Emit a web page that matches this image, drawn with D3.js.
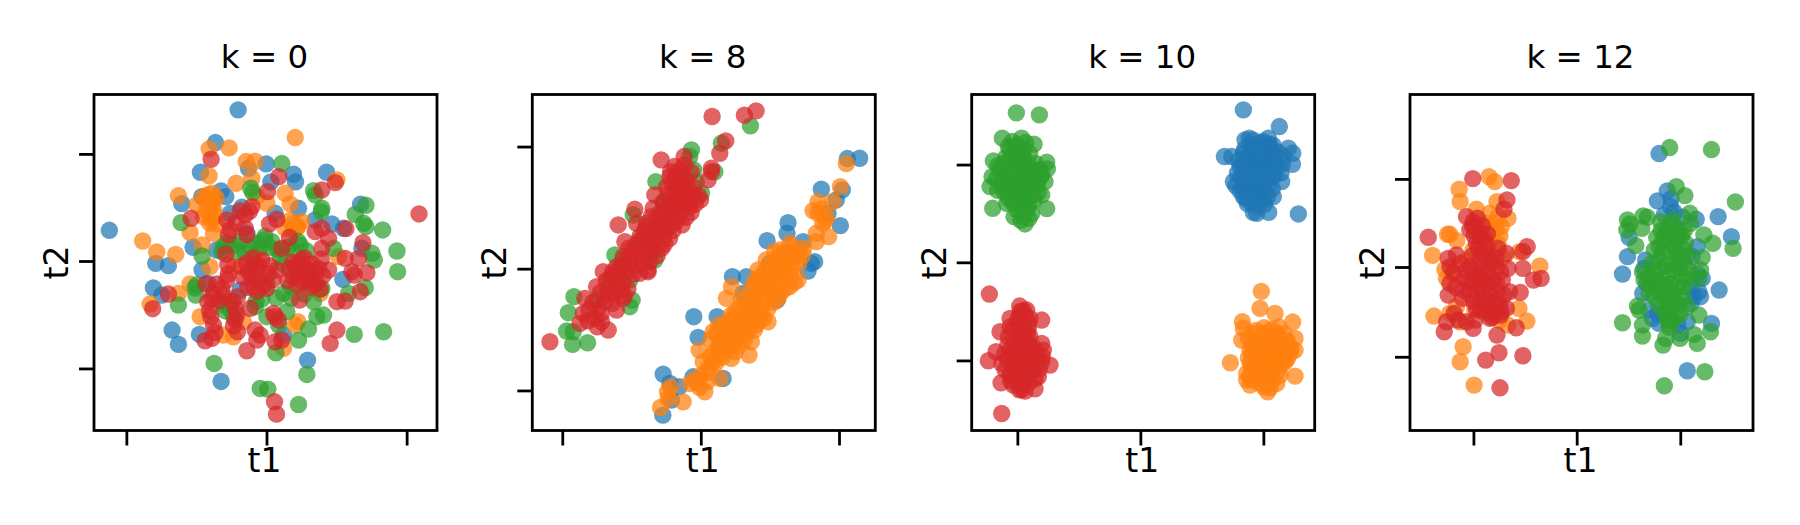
<!DOCTYPE html>
<html>
<head>
<meta charset="utf-8">
<script src="https://cdn.jsdelivr.net/npm/d3@7/dist/d3.min.js"></script>
<style>html,body{margin:0;padding:0;background:#fff}svg{display:block}</style>
</head>
<body>
<svg id="chart" width="1800" height="525"></svg>
<script>
const classes = ["blue", "orange", "green", "red"];
const classColors = ["#1f77b4", "#ff7f0e", "#2ca02c", "#d62728"];
const titles = ["k = 0", "k = 8", "k = 10", "k = 12"];

const k0Blue = [[-8.5,45.3],[-47.1,9.2],[-15.3,35.5],[-19.8,26.6],[-0.1,29.1],[8.1,26.0],[8.7,23.7],[1.3,23.7],[18.0,26.6],[-13.6,21.0],[-12.2,19.3],[-19.4,19.3],[-25.4,17.2],[9.6,15.8],[-7.4,16.1],[-10.9,14.3],[2.6,14.3],[14.6,12.3],[19.6,11.1],[28.2,17.0],[23.1,9.8],[-22.0,4.1],[-33.2,-0.7],[-29.4,-1.4],[-19.3,-2.7],[-33.9,-8.1],[-31.4,-10.2],[22.9,-5.5],[28.6,3.8],[-28.3,-20.7],[-26.4,-25.0],[-20.1,-22.0],[5.1,-22.2],[12.3,-29.7],[-13.6,-36.1],[-5.4,27.8],[-5.9,8.3],[-14.9,3.3],[-7.9,-8.7],[-17.4,-6.7]];
const k0Orange = [[8.6,37.0],[-11.2,33.9],[-17.2,33.6],[-6.1,29.8],[-3.4,29.9],[-17.2,25.5],[-4.4,24.8],[-9.1,23.3],[-26.4,19.6],[-16.3,20.3],[-18.9,19.3],[-20.9,16.8],[-17.4,17.8],[-15.9,15.8],[-16.4,12.3],[-18.9,13.3],[5.6,20.3],[7.1,17.1],[0.1,17.3],[-2.9,19.3],[8.1,11.3],[10.6,11.8],[5.6,9.8],[-22.9,8.5],[-37.1,6.0],[-32.9,2.7],[-27.2,2.0],[-19.3,4.8],[21.1,24.3],[-2.4,2.3],[-16.9,-1.7],[-22.9,-6.9],[-26.4,-9.7],[-34.9,-12.9],[-19.9,-16.7],[-12.9,-22.2],[-9.9,-22.7],[-6.9,-18.2],[9.4,-18.2],[8.6,-19.2],[5.1,-26.2],[16.1,-9.7],[21.6,1.3],[-9.9,-1.7],[-15.9,8.3],[-18.1,15.1],[-16.9,14.1],[-15.4,13.6],[-17.1,11.4],[-15.1,18.9],[-16.1,17.9],[-14.9,11.1],[7.9,9.1],[9.4,10.4],[6.9,12.1],[9.1,9.9],[-17.6,19.9],[-16.6,16.6]];
const k0Green = [[4.6,29.2],[14.1,21.1],[14.6,19.8],[-4.7,21.8],[-4.1,20.5],[16.6,15.8],[16.4,14.8],[29.8,16.7],[26.6,14.0],[29.1,11.3],[29.8,10.3],[34.8,9.3],[-25.6,11.5],[39.1,3.0],[39.3,-3.2],[31.6,2.3],[32.3,0.3],[20.1,3.8],[-19.3,1.5],[-13.4,2.8],[-9.9,4.8],[-6.4,2.3],[-0.9,6.3],[1.6,5.8],[-2.9,5.3],[10.1,4.8],[8.1,3.3],[4.1,1.3],[-3.9,-0.7],[-20.9,-7.2],[-21.2,-10.2],[-26.4,-13.2],[-12.9,-13.2],[-10.9,-12.2],[5.1,-9.7],[7.1,-7.7],[14.1,-12.2],[16.6,-8.2],[29.6,-8.0],[24.6,-9.7],[15.1,-16.7],[17.1,-16.2],[6.1,-15.2],[0.1,-16.7],[3.6,-19.2],[12.6,-20.4],[9.6,-23.7],[26.3,-22.0],[35.1,-21.2],[2.8,-27.5],[-15.7,-30.7],[12.1,-34.0],[-1.9,-38.2],[0.4,-38.4],[9.6,-43.0],[-9.9,-16.7],[-3.4,-13.7],[13.1,-4.7],[0.1,-6.7],[-11.9,5.4],[-7.9,5.9],[-4.9,4.4],[-1.9,3.9],[1.1,4.1],[3.4,3.4],[6.4,4.1],[9.4,5.9],[11.9,3.1],[-12.9,4.4],[-8.9,2.9],[-0.4,7.4],[-12.4,-14.9],[-10.9,-14.4],[-21.4,-8.1],[7.4,-11.1],[11.4,-9.9],[2.9,-11.1],[-3.1,-12.1],[5.1,-1.1],[-1.4,-11.4]];
const k0Red = [[45.7,14.1],[-16.6,30.5],[3.7,25.3],[20.6,23.5],[16.6,21.3],[0.3,20.8],[-4.4,16.3],[-6.4,13.8],[-11.9,12.3],[-22.6,12.8],[0.9,11.1],[3.1,12.5],[-10.9,9.3],[-11.4,7.8],[-5.9,7.8],[6.9,7.1],[4.6,3.8],[14.6,8.8],[16.6,9.8],[18.6,6.8],[16.6,3.8],[23.8,9.7],[28.9,5.5],[27.6,0.8],[23.6,0.8],[25.6,-3.2],[30.1,-3.5],[26.3,-4.2],[-12.2,2.1],[-11.6,-1.2],[-11.9,-5.7],[-1.4,0.3],[-5.4,-3.2],[-2.9,-2.7],[0.6,-3.7],[3.1,-2.7],[-3.9,-7.7],[0.1,-8.2],[10.6,0.3],[8.6,-1.7],[12.6,-2.7],[15.6,-2.2],[18.6,-2.7],[8.1,-4.7],[11.6,-5.2],[15.1,-6.7],[-18.1,-6.9],[-15.9,-9.7],[-13.4,-8.2],[-29.4,-9.9],[-17.6,-12.2],[-34.1,-14.3],[-8.7,-10.7],[-9.4,-14.2],[-4.9,-14.2],[-16.7,-16.7],[-15.9,-19.2],[-9.4,-17.7],[-8.7,-21.2],[-18.4,-23.9],[-16.4,-23.2],[-3.4,-20.7],[-1.9,-22.2],[-2.9,-23.7],[2.1,-15.7],[2.6,-16.7],[3.6,-17.7],[9.9,-11.7],[21.1,-12.2],[23.6,-12.0],[28.1,-9.2],[21.1,-20.7],[19.1,-24.7],[2.6,-24.2],[4.6,-23.7],[-5.9,-26.9],[2.4,-42.2],[3.0,-45.9],[-7.4,-1.6],[-5.9,-0.6],[-4.1,0.9],[-2.4,-1.4],[-6.9,-4.9],[-4.4,-5.1],[-1.9,-5.4],[0.9,-1.4],[1.9,-5.6],[-2.9,-9.1],[-0.9,-7.4],[-5.6,-7.9],[6.9,-2.4],[9.4,-0.6],[11.4,0.9],[13.6,-0.9],[16.4,0.6],[6.4,-5.9],[9.6,-3.9],[10.9,-6.4],[13.1,-5.1],[14.6,-3.6],[16.9,-4.4],[9.1,-7.1],[12.9,-7.9],[16.1,-8.4],[11.4,-3.1],[14.1,-6.9],[7.9,-0.4],[-16.4,-11.4],[-14.1,-11.9],[-17.1,-14.9],[-14.9,-6.9],[-12.9,-10.4],[-10.1,-12.1],[-8.9,-16.1],[-9.9,-19.4],[-15.4,-21.4],[-11.4,-3.9],[-6.4,9.9],[-9.1,11.4],[-5.1,14.9],[-7.9,15.1]];

const k8Blue = [[44.0,33.0],[47.7,33.1],[36.2,23.8],[42.5,23.6],[40.7,20.6],[41.9,12.9],[38.2,16.6],[26.2,13.8],[25.9,10.6],[19.9,8.4],[30.7,8.1],[34.2,2.1],[33.2,1.6],[32.2,-0.7],[9.5,-2.4],[13.7,-2.4],[-2.1,-14.4],[4.9,-14.4],[-0.8,-20.6],[22.9,-9.4],[-11.3,-31.6],[-9.3,-34.4],[-6.5,-35.4],[-2.3,-32.4],[6.7,-32.9],[-8.8,-39.4],[-11.4,-43.9],[15.7,-9.4],[10.7,-17.4],[23.7,0.6],[5.7,-23.4],[26.7,4.6],[18.7,-2.4],[12.7,-7.4],[20.7,1.6]];
const k8Orange = [[43.7,31.5],[41.9,24.6],[39.7,20.1],[35.2,20.1],[33.7,17.4],[37.7,15.6],[35.2,16.6],[34.7,10.6],[38.4,9.6],[34.7,8.1],[26.7,7.6],[29.2,3.6],[23.7,5.6],[25.7,2.6],[19.7,2.6],[17.2,-0.4],[21.7,-0.4],[25.7,-0.4],[29.2,-3.4],[26.7,-5.4],[18.7,-3.4],[23.2,-3.9],[20.2,-6.4],[16.7,-5.4],[9.2,-5.4],[7.7,-8.9],[12.2,-8.9],[23.2,-8.9],[15.2,-11.4],[18.2,-13.4],[20.2,-15.9],[13.7,-14.4],[16.7,-16.9],[10.7,-15.9],[8.7,-15.4],[6.7,-17.9],[3.7,-18.9],[9.7,-19.4],[13.7,-19.4],[15.2,-21.9],[6.2,-21.4],[9.7,-22.9],[-0.5,-24.4],[14.5,-25.9],[9.2,-26.9],[5.2,-25.4],[0.7,-27.9],[3.7,-27.9],[2.2,-29.9],[5.7,-32.9],[-3.3,-34.4],[-0.8,-34.4],[1.2,-36.9],[-10.0,-36.9],[-9.8,-38.9],[-5.3,-39.9],[-12.1,-41.6],[27.4,6.4],[29.1,5.4],[30.6,4.1],[25.1,4.9],[27.1,3.4],[29.4,1.6],[22.9,3.1],[24.9,1.1],[27.4,0.6],[21.1,1.4],[23.4,-0.9],[27.1,-2.1],[19.1,-0.9],[21.4,-2.4],[24.9,-2.9],[28.1,-4.1],[17.6,-2.6],[19.6,-4.4],[22.4,-5.1],[25.4,-5.9],[16.1,-3.9],[18.1,-6.1],[21.4,-7.4],[24.1,-7.1],[14.9,-6.4],[16.9,-8.1],[19.4,-8.9],[21.9,-10.1],[13.4,-9.4],[15.9,-10.4],[18.1,-11.1],[20.1,-12.1],[11.6,-11.6],[13.9,-12.4],[16.4,-13.1],[18.9,-14.9],[10.4,-12.9],[12.4,-14.1],[14.9,-15.1],[17.4,-15.6],[9.1,-13.9],[11.4,-16.4],[13.4,-17.1],[16.1,-18.4],[7.6,-16.6],[9.4,-18.1],[11.9,-18.9],[14.4,-18.1],[5.4,-16.9],[8.1,-19.9],[10.9,-20.6],[13.1,-21.4],[4.6,-19.6],[6.6,-20.1],[8.9,-22.1],[11.4,-23.1],[3.1,-21.1],[5.4,-23.1],[7.9,-24.4],[10.4,-24.9],[4.1,-24.9],[6.4,-26.6],[2.9,-26.4],[4.4,-28.4],[2.1,-31.1],[0.1,-31.9],[-1.9,-33.4],[-0.4,-35.6],[1.9,-33.9],[-9.1,-35.4],[30.9,6.1],[22.1,5.1],[36.6,13.6],[36.1,17.9],[37.4,14.4]];
const k8Green = [[14.9,42.8],[6.2,37.6],[-2.8,35.6],[-3.3,33.6],[-2.1,29.6],[4.2,29.0],[-1.3,26.1],[0.2,22.6],[-13.5,26.1],[-9.3,12.6],[-20.3,16.1],[-13.8,2.6],[-25.8,4.1],[-21.3,-3.4],[-38.1,-8.4],[-39.8,-13.2],[-20.6,-9.4],[-21.3,-11.4],[-31.3,-9.4],[-40.3,-18.7],[-38.3,-18.9],[-38.5,-22.7],[-34.0,-22.2],[-5.3,24.6],[-9.3,20.6],[-12.3,16.6],[-16.3,12.6],[-18.3,8.6],[-23.3,2.6],[-27.3,-3.4],[-11.3,20.1],[-14.8,7.1]];
const k8Red = [[16.6,47.3],[13.1,46.0],[3.4,45.6],[7.5,38.3],[5.7,34.6],[-5.0,33.6],[-11.9,32.6],[3.2,30.1],[3.2,29.1],[2.2,26.6],[-6.3,29.6],[-9.3,27.6],[-4.3,26.6],[-7.3,24.6],[-10.3,24.6],[-13.8,22.1],[-2.3,21.6],[-5.3,21.6],[-8.3,20.6],[-3.3,18.6],[-6.3,17.6],[-11.3,19.6],[-14.3,18.1],[-19.8,17.8],[-9.3,16.6],[-13.3,14.6],[-16.3,13.6],[-19.3,13.6],[-24.8,13.1],[-22.8,8.1],[-18.3,9.6],[-13.8,8.6],[-11.8,6.1],[-16.3,6.1],[-20.3,5.6],[-23.3,3.6],[-15.3,2.1],[-15.8,-0.9],[-21.3,1.6],[-25.3,0.6],[-29.3,-0.9],[-24.3,-2.4],[-25.3,-4.9],[-31.3,-5.4],[-34.8,-8.9],[-27.8,-7.9],[-23.3,-8.9],[-30.8,-11.9],[-25.3,-12.4],[-35.3,-13.4],[-31.8,-14.9],[-29.8,-15.9],[-36.3,-16.4],[-27.8,-18.4],[-45.3,-21.9],[-9.1,29.1],[-7.6,27.4],[-5.6,28.6],[-3.8,24.2],[-8.6,25.6],[-6.1,25.9],[-4.6,23.1],[-2.1,24.4],[-0.6,21.9],[-9.9,22.4],[-7.9,22.9],[-6.6,22.1],[-3.9,20.2],[-1.6,19.4],[-0.1,20.6],[-9.6,19.1],[-7.1,19.6],[-5.4,18.9],[-2.9,16.9],[-11.4,16.9],[-8.4,18.1],[-6.4,15.6],[-4.4,15.4],[-11.9,14.1],[-9.9,14.9],[-7.6,13.9],[-5.6,13.1],[-14.9,15.6],[-12.6,12.4],[-10.4,12.1],[-8.4,11.4],[-16.9,11.4],[-15.1,10.6],[-13.4,10.9],[-11.1,9.6],[-9.4,9.1],[-19.1,7.4],[-17.4,8.4],[-15.4,8.1],[-12.9,6.9],[-10.9,7.4],[-21.6,6.1],[-19.4,3.4],[-17.6,4.9],[-15.1,4.4],[-13.1,3.9],[-23.4,1.1],[-21.4,3.6],[-19.1,0.9],[-17.4,1.9],[-15.9,-0.4],[-26.6,-2.1],[-24.1,0.4],[-22.4,-0.9],[-20.4,-1.6],[-18.4,-1.4],[-28.4,-3.6],[-26.4,-0.9],[-23.4,-4.1],[-21.9,-6.1],[-30.1,-7.1],[-27.9,-5.9],[-25.9,-7.4],[-23.9,-6.4],[-22.9,-8.1],[-28.9,-9.9],[-26.6,-10.4],[-32.4,-10.1],[-33.6,-12.4],[-29.9,-13.4],[-33.9,-15.6],[-31.1,-17.4],[-7.9,30.6],[-4.9,31.1],[-2.9,28.9]];

const k10Blue = [[30.9,45.7],[41.7,40.7],[32.7,37.2],[31.4,36.7],[38.4,37.2],[36.9,36.2],[38.9,34.7],[44.4,34.2],[45.7,32.7],[25.2,31.7],[27.4,31.7],[45.6,29.4],[42.9,31.7],[30.9,32.7],[34.9,32.7],[29.9,28.7],[33.9,28.7],[37.9,29.7],[40.9,28.7],[27.9,24.2],[30.9,24.7],[35.9,24.7],[39.9,25.7],[42.4,24.2],[30.9,19.7],[34.9,20.7],[39.9,19.7],[33.4,17.7],[36.9,18.7],[33.9,15.0],[34.9,14.7],[38.5,15.0],[47.4,14.5],[32.9,30.7],[36.9,27.7],[31.9,21.7],[36.9,21.7],[39.9,32.7],[29.5,30.5],[31.2,33.8],[33.1,35.2],[34.6,31.2],[36.2,33.9],[37.8,32.2],[39.4,30.8],[41.2,33.1],[42.6,29.4],[29.1,26.7],[30.8,29.1],[32.4,26.9],[34.1,29.9],[35.6,27.1],[37.3,30.6],[38.9,27.4],[40.6,30.1],[42.2,26.8],[28.6,22.9],[30.2,25.6],[31.8,23.3],[33.5,25.9],[35.1,23.1],[36.8,25.8],[38.4,23.4],[40.1,26.3],[29.9,21.4],[31.6,19.1],[33.2,22.4],[34.8,18.9],[36.4,22.8],[38.1,19.6],[39.6,22.1],[32.2,31.9],[35.4,29.2],[38.6,35.4],[33.7,33.6],[36.9,31.4],[31.1,27.8],[34.4,24.4],[37.6,24.6],[30.6,22.8],[33.8,20.4],[37.2,17.4],[35.3,16.9],[32.1,17.6],[36.1,35.8],[33.9,36.6],[31.9,30.2],[39.8,35.1]];
const k10Orange = [[36.3,-8.7],[35.9,-13.8],[40.4,-15.3],[45.7,-17.9],[30.6,-17.8],[30.9,-19.8],[46.4,-22.8],[30.4,-23.3],[27.0,-30.1],[46.4,-26.3],[46.4,-34.1],[31.9,-35.3],[32.9,-36.8],[38.2,-38.8],[40.9,-36.3],[35.9,-36.3],[33.9,-21.3],[37.9,-21.3],[40.9,-21.3],[43.9,-23.3],[32.9,-26.3],[36.9,-25.3],[40.9,-25.3],[44.9,-27.3],[32.9,-30.3],[36.9,-30.3],[40.9,-30.3],[43.4,-29.8],[34.9,-33.8],[38.9,-34.3],[41.9,-33.8],[31.9,-33.3],[38.4,-27.3],[34.9,-27.3],[40.9,-28.3],[34.6,-20.4],[37.1,-19.6],[39.4,-20.1],[41.6,-19.4],[43.1,-21.4],[32.4,-22.6],[35.2,-22.9],[38.6,-23.1],[40.2,-22.7],[42.4,-23.9],[44.6,-24.9],[33.4,-24.6],[36.1,-24.2],[39.1,-24.9],[41.6,-26.2],[43.4,-25.8],[45.2,-25.9],[33.6,-27.4],[35.9,-26.4],[37.6,-28.6],[39.9,-26.9],[42.1,-28.4],[44.1,-28.9],[32.4,-28.6],[34.4,-29.4],[36.2,-28.1],[38.4,-30.1],[39.9,-31.6],[42.4,-30.6],[33.4,-31.6],[35.6,-32.1],[37.6,-31.6],[39.4,-33.1],[41.2,-32.6],[32.9,-33.9],[34.1,-35.4],[36.6,-34.4],[37.9,-36.1],[39.6,-35.4],[37.1,-37.4],[38.9,-37.6],[36.1,-30.1],[40.6,-29.1],[37.9,-26.1],[35.1,-30.9],[43.4,-27.4]];
const k10Green = [[-37.2,44.8],[-30.3,44.2],[-41.4,37.2],[-35.6,37.2],[-31.9,35.4],[-39.6,34.7],[-37.1,35.2],[-44.1,30.4],[-28.1,30.0],[-27.9,28.0],[-44.5,25.7],[-45.1,22.7],[-28.6,24.2],[-44.3,16.2],[-28.1,16.1],[-37.9,13.7],[-34.6,11.5],[-32.6,14.7],[-40.1,17.7],[-29.6,20.2],[-42.1,27.7],[-39.1,30.7],[-35.1,31.7],[-31.1,27.7],[-39.1,24.7],[-35.1,25.7],[-31.6,23.7],[-41.6,22.7],[-37.1,20.7],[-33.1,19.7],[-35.1,16.7],[-38.1,17.7],[-39.1,33.7],[-35.1,33.7],[-30.1,27.7],[-37.1,28.7],[-34.1,15.7],[-38.4,36.2],[-36.6,33.1],[-34.4,35.9],[-33.2,32.6],[-38.2,32.1],[-40.4,31.4],[-42.8,28.9],[-41.1,29.6],[-39.6,27.4],[-37.9,30.1],[-36.3,27.1],[-34.6,29.8],[-32.9,26.9],[-31.4,29.6],[-29.6,26.4],[-43.2,25.1],[-41.4,24.2],[-40.1,26.3],[-38.2,23.6],[-36.6,26.1],[-35.9,23.1],[-34.2,24.4],[-32.6,25.3],[-30.9,23.1],[-29.9,25.6],[-42.8,21.6],[-40.9,21.1],[-39.3,21.9],[-37.6,22.6],[-35.8,20.4],[-34.3,22.1],[-32.4,21.6],[-30.6,20.9],[-39.6,19.2],[-37.9,18.6],[-36.3,19.1],[-34.6,18.4],[-33.4,17.1],[-31.9,18.6],[-36.9,15.6],[-35.4,14.1],[-33.4,13.2],[-35.9,12.6],[-37.2,32.9],[-35.2,30.2],[-33.4,29.1],[-36.9,24.4],[-38.8,25.9],[-33.9,23.2],[-35.2,27.6]];
const k10Red = [[-45.3,-9.5],[-41.6,-45.3],[-34.1,-14.3],[-36.1,-14.8],[-29.6,-17.3],[-39.1,-16.8],[-42.1,-20.8],[-37.1,-18.8],[-33.1,-16.8],[-29.6,-24.3],[-43.3,-26.8],[-45.6,-29.5],[-27.1,-30.8],[-29.1,-26.3],[-39.6,-22.3],[-36.1,-22.3],[-39.1,-26.3],[-35.1,-26.3],[-31.1,-27.3],[-41.6,-30.3],[-37.1,-30.3],[-32.6,-30.8],[-29.6,-29.8],[-30.6,-34.3],[-41.8,-36.1],[-38.1,-36.8],[-35.6,-38.1],[-31.6,-37.9],[-35.1,-34.3],[-39.1,-33.8],[-33.1,-22.3],[-33.6,-19.8],[-36.2,-13.1],[-34.4,-16.2],[-36.8,-17.1],[-38.1,-20.2],[-35.3,-19.4],[-33.9,-21.6],[-36.6,-21.1],[-39.1,-19.4],[-37.9,-23.6],[-35.6,-24.1],[-33.6,-24.6],[-39.8,-24.9],[-37.2,-25.4],[-34.4,-27.1],[-32.1,-25.4],[-40.8,-27.6],[-38.6,-28.1],[-36.4,-27.9],[-33.2,-28.4],[-31.2,-29.4],[-29.4,-28.2],[-39.9,-29.1],[-38.1,-31.2],[-35.9,-29.9],[-34.2,-31.6],[-32.1,-32.4],[-30.3,-31.9],[-40.6,-32.2],[-38.9,-32.9],[-36.9,-33.1],[-33.6,-33.4],[-31.6,-34.9],[-37.4,-35.4],[-35.2,-36.4],[-33.4,-36.1],[-36.3,-38.2],[-34.6,-38.6],[-38.9,-35.6],[-35.8,-32.6],[-32.8,-26.2],[-37.8,-27.1],[-35.1,-14.4],[-33.6,-18.4],[-36.1,-15.9],[-35.8,-26.6],[-34.9,-23.1]];

const k12Blue = [[24.8,34.0],[27.3,22.8],[24.3,19.8],[28.3,18.1],[42.6,15.1],[36.0,14.3],[46.6,9.1],[15.8,8.9],[15.3,3.1],[13.8,-2.1],[20.8,2.1],[20.3,-0.4],[37.8,-3.4],[42.9,-6.9],[36.8,-7.4],[37.3,-8.9],[35.3,-8.9],[22.8,-15.4],[40.6,-16.9],[31.3,-19.9],[33.3,-31.1],[34.8,3.1],[36.3,6.1],[24.8,-16.9],[33.3,-16.4],[21.8,-12.9],[28.4,20.4],[29.4,16.4],[31.9,14.9],[36.4,-2.1],[21.1,-4.9],[19.9,-7.9],[24.4,-13.9],[30.4,-17.4],[34.4,-6.1],[34.4,-10.9],[26.4,15.6]];
const k12Orange = [[-26.4,27.1],[-24.7,25.6],[-35.4,23.3],[-35.1,19.6],[-24.0,19.6],[-30.2,17.3],[-26.2,16.1],[-23.7,15.1],[-20.7,14.6],[-22.7,12.1],[-38.9,9.8],[-38.2,9.8],[-43.4,3.5],[-39.7,-0.7],[-39.2,-3.4],[-23.7,7.1],[-17.2,4.6],[-11.1,0.3],[-31.2,5.1],[-36.2,-11.9],[-43.0,-14.7],[-38.2,-13.9],[-17.4,-12.4],[-15.0,-16.2],[-35.2,-16.4],[-20.7,-17.4],[-30.7,-12.9],[-25.2,2.1],[-34.2,-23.9],[-35.1,-28.4],[-30.9,-35.4],[-23.2,-15.9],[-33.2,2.1],[-27.2,-3.9],[-27.4,13.1],[-25.4,13.1],[-24.4,11.4],[-26.1,10.9],[-23.1,9.4],[-36.1,7.9],[-37.4,-2.1],[-25.9,7.4],[-28.4,-12.4],[-22.1,2.9]];
const k12Green = [[28.0,35.8],[40.6,35.2],[30.0,24.1],[32.6,21.4],[47.8,19.5],[15.3,14.1],[16.0,12.9],[20.0,15.3],[21.3,14.9],[19.6,11.6],[15.1,11.1],[34.1,16.1],[34.3,13.1],[25.3,13.6],[17.8,6.4],[38.3,9.6],[41.0,7.1],[47.1,5.6],[37.8,2.9],[37.3,-0.9],[36.8,-3.4],[19.8,-1.4],[20.3,-3.9],[21.8,-7.9],[18.3,-11.7],[18.8,-12.9],[13.8,-16.7],[19.8,-17.4],[19.8,-20.7],[27.8,-16.9],[36.8,-14.4],[35.3,-20.2],[40.3,-19.4],[31.1,-21.4],[36.3,-22.9],[26.8,-21.4],[26.0,-23.4],[38.6,-31.4],[26.4,-35.6],[26.8,10.1],[30.8,10.1],[24.8,6.1],[29.3,6.1],[32.8,7.1],[24.8,2.1],[29.3,1.1],[32.3,1.1],[23.3,-1.9],[27.3,-2.9],[31.8,-2.9],[24.8,-6.9],[28.8,-7.4],[32.3,-5.9],[26.8,-11.9],[30.8,-11.4],[33.3,-11.9],[27.3,-15.4],[29.8,-14.9],[22.8,-5.9],[21.8,-2.9],[25.4,10.9],[27.6,12.1],[29.6,11.9],[31.6,9.4],[24.1,8.9],[26.1,8.4],[28.1,8.6],[30.1,7.9],[32.4,5.1],[23.4,5.1],[25.9,4.4],[27.9,4.9],[30.4,3.9],[33.4,3.4],[22.6,1.1],[24.9,-0.4],[26.9,0.4],[28.9,-0.9],[30.9,-0.4],[33.6,-0.9],[21.9,-5.1],[23.9,-4.1],[25.9,-5.1],[28.1,-5.1],[30.1,-5.6],[33.1,-3.6],[23.4,-8.9],[25.6,-8.6],[27.6,-9.6],[29.9,-8.4],[31.9,-8.9],[24.6,-11.4],[28.1,-12.4],[29.4,-11.1],[26.9,-14.1],[28.6,-16.1],[27.9,-18.1],[31.1,-14.1],[32.4,10.9],[28.9,14.1],[26.4,-7.1],[31.1,1.9]];
const k12Red = [[-31.3,26.5],[-19.7,25.9],[-21.0,20.1],[-21.9,17.3],[-33.2,15.1],[-31.2,13.6],[-44.7,8.9],[-32.2,11.1],[-29.2,10.1],[-27.7,8.1],[-30.2,7.1],[-14.9,6.1],[-16.2,4.6],[-23.7,5.6],[-21.2,4.1],[-28.2,4.1],[-36.2,3.6],[-38.7,2.6],[-38.2,0.1],[-16.2,-0.4],[-10.7,-3.4],[-13.0,-3.9],[-32.2,0.1],[-28.2,0.1],[-24.2,0.1],[-20.7,-0.4],[-30.2,-2.9],[-25.2,-3.9],[-38.2,-4.9],[-38.7,-8.4],[-34.2,-6.9],[-29.2,-5.9],[-20.2,-7.4],[-17.0,-7.6],[-28.2,-9.9],[-24.2,-9.9],[-21.2,-12.4],[-30.2,-12.4],[-26.2,-13.9],[-22.7,-13.4],[-35.7,-15.9],[-39.2,-16.4],[-33.2,-16.4],[-31.2,-18.4],[-39.9,-19.4],[-18.2,-18.2],[-24.0,-20.4],[-23.4,-25.7],[-27.4,-27.9],[-16.2,-26.6],[-23.1,-36.2],[-31.4,12.4],[-29.9,14.6],[-30.6,11.9],[-28.4,12.4],[-30.9,9.4],[-28.9,8.6],[-26.9,9.9],[-29.6,5.6],[-27.1,6.4],[-31.4,3.4],[-29.1,2.6],[-26.4,3.1],[-24.4,2.9],[-33.4,-0.9],[-31.1,-1.9],[-29.1,-0.9],[-27.1,-1.9],[-25.6,1.1],[-22.9,-1.4],[-33.1,-4.4],[-31.4,-4.9],[-28.9,-3.4],[-26.9,-4.9],[-24.1,-5.1],[-22.4,-3.9],[-32.4,-8.1],[-30.1,-7.4],[-28.1,-6.4],[-26.1,-7.9],[-23.9,-7.4],[-21.9,-8.4],[-31.1,-10.4],[-29.1,-10.9],[-27.1,-10.1],[-25.1,-11.1],[-23.1,-11.4],[-28.9,-13.1],[-26.9,-12.4],[-24.9,-13.4],[-22.9,-14.4],[-26.1,-15.4],[-37.1,-1.6],[-36.4,-6.1],[-35.1,1.1],[-34.4,-9.4],[-36.9,-13.9],[-25.4,-15.1],[-30.6,-15.9],[-33.9,-3.4]];

const panelSeries = [
  [k0Blue, k0Orange, k0Green, k0Red],
  [k8Blue, k8Orange, k8Green, k8Red],
  [k10Blue, k10Orange, k10Green, k10Red],
  [k12Blue, k12Orange, k12Green, k12Red]
];
const xDomains = [[-51.7, 51.1], [-50.6, 52.4], [-50.6, 52.3], [-50.2, 53.1]];
const yDomains = [[-50.8, 49.9], [-48.5, 52.2], [-50.4, 50.3], [-49.0, 51.7]];
const xTicks = [[-42, 0, 42], [-41.6, 0, 41.5], [-36.9, 0, 36.9], [-31.1, 0, 31.2]];
const yTicks = [[-32.2, 0, 32.1], [-36.5, 0, 36.6], [-29.4, 0, 29.3], [-26.9, 0, 26.4]];

const panelLefts = [94, 532.3, 971.7, 1410];
const panelW = 343, panelH = 336, panelTop = 94.5;
const radius = 8.7, alpha = 0.72, font = "'DejaVu Sans', sans-serif";

const svg = d3.select("#chart");
titles.forEach((title, p) => {
  const g = svg.append("g").attr("transform", `translate(${panelLefts[p]},${panelTop})`);
  const x = d3.scaleLinear().domain(xDomains[p]).range([0, panelW]);
  const y = d3.scaleLinear().domain(yDomains[p]).range([panelH, 0]);

  panelSeries[p].forEach((pts, c) => {
    g.append("g").attr("class", classes[c]).selectAll("circle").data(pts).join("circle")
      .attr("cx", d => x(d[0])).attr("cy", d => y(d[1])).attr("r", radius)
      .attr("fill", classColors[c]).attr("fill-opacity", alpha);
  });

  const ax = g.append("g").attr("transform", `translate(0,${panelH})`)
    .call(d3.axisBottom(x).tickValues(xTicks[p]).tickFormat("").tickSize(15));
  const ay = g.append("g")
    .call(d3.axisLeft(y).tickValues(yTicks[p]).tickFormat("").tickSize(15));
  [ax, ay].forEach(a => {
    a.select(".domain").remove();
    a.selectAll("line").attr("stroke", "#000").attr("stroke-width", 2.8);
  });

  g.append("rect").attr("width", panelW).attr("height", panelH)
    .attr("fill", "none").attr("stroke", "#000").attr("stroke-width", 2.8);

  g.append("text").attr("x", panelW / 2 - 1).attr("y", 68 - panelTop).attr("text-anchor", "middle")
    .attr("font-family", font).attr("font-size", 32.5).attr("fill", "#000").text(title);
  g.append("text").attr("x", panelW / 2 - 1).attr("y", 472 - panelTop).attr("text-anchor", "middle")
    .attr("font-family", font).attr("font-size", 33).attr("fill", "#000").text("t1");
  g.append("text").attr("transform", `translate(-26,${panelH / 2}) rotate(-90)`).attr("text-anchor", "middle")
    .attr("font-family", font).attr("font-size", 33).attr("fill", "#000").text("t2");
});
</script>
</body>
</html>
